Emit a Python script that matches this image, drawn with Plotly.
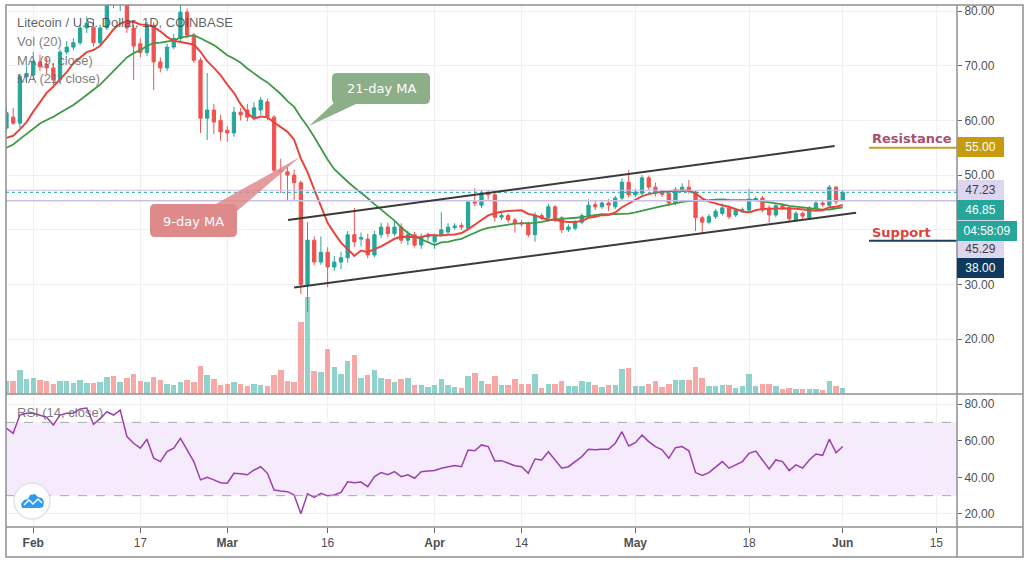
import pandas as pd
import plotly.graph_objects as go

# daily LTC/USD candles, Jan 28 - Jun 1 2020
dates = pd.date_range("2020-01-28", "2020-06-01", freq="D")

# closes of the 20 days before the window, only used to start the moving averages
seed_close = [47.0, 47.5, 48.5, 50.0, 50.5, 56.0, 55.5, 57.0, 59.5, 58.0,
              57.5, 56.8, 56.0, 57.5, 56.5, 53.5, 54.5, 54.0, 57.0, 60.8]

open_ = [58.6, 60.6, 59.5, 68.0, 68.3, 70.7, 70.2, 69.6, 67.4, 72.5,
         73.4, 74.2, 76.9, 77.0, 74.2, 76.9, 82.5, 81.5, 82.0, 76.9,
         74.0, 72.4, 77.4, 70.7, 69.6, 73.4, 75.0, 79.8, 75.6, 71.0,
         60.4, 61.9, 60.0, 58.2, 57.7, 61.5, 61.9, 60.6, 61.9, 63.4,
         60.6, 50.9, 50.6, 50.0, 48.6, 30.0, 38.1, 34.1, 35.9, 33.2,
         34.1, 34.9, 39.1, 38.3, 38.3, 35.4, 39.1, 40.5, 39.3, 40.5,
         38.1, 39.1, 37.2, 38.7, 37.8, 39.1, 39.6, 40.4, 40.8, 40.3,
         45.1, 44.5, 46.7, 46.4, 42.3, 42.6, 41.8, 41.3, 41.2, 39.1,
         42.6, 42.2, 44.2, 42.2, 40.0, 40.3, 41.4, 42.6, 44.6, 44.2,
         44.9, 44.2, 45.8, 48.7, 46.4, 46.7, 49.5, 47.8, 46.8, 46.7,
         44.9, 47.3, 47.8, 46.9, 42.2, 41.4, 42.4, 43.0, 44.0, 42.7,
         43.5, 43.6, 45.5, 45.8, 44.0, 42.7, 44.4, 44.0, 41.8, 43.0,
         42.2, 44.0, 44.9, 44.5, 47.8, 45.3]
high = [62.2, 62.3, 68.5, 70.0, 72.5, 72.0, 71.5, 70.5, 73.0, 74.5,
        75.0, 77.5, 79.0, 78.5, 77.5, 84.0, 84.0, 83.5, 83.0, 77.5,
        75.0, 78.0, 78.0, 71.5, 74.0, 75.8, 81.5, 80.5, 76.0, 71.5,
        68.7, 63.0, 61.0, 59.0, 62.5, 62.3, 63.0, 63.3, 64.3, 64.0,
        61.0, 53.0, 51.5, 51.0, 49.0, 41.4, 38.8, 38.8, 36.8, 35.2,
        36.0, 39.8, 44.0, 39.5, 39.3, 39.8, 41.3, 41.3, 41.5, 41.2,
        39.8, 39.6, 39.3, 39.5, 39.3, 43.2, 41.2, 41.2, 41.3, 45.5,
        47.6, 47.3, 47.2, 46.8, 43.4, 43.0, 42.2, 41.8, 41.5, 43.2,
        43.0, 44.8, 44.5, 42.5, 41.0, 41.8, 43.0, 45.6, 45.3, 45.3,
        45.6, 46.2, 49.4, 50.9, 47.5, 50.0, 49.9, 48.6, 47.3, 47.0,
        47.8, 48.5, 49.1, 47.2, 42.6, 42.9, 43.8, 44.8, 44.4, 44.0,
        44.1, 47.5, 46.1, 46.2, 44.5, 44.8, 44.8, 44.3, 43.4, 43.3,
        44.3, 45.4, 45.4, 48.2, 48.0, 47.23]
low = [57.8, 59.2, 58.6, 67.0, 67.5, 69.0, 68.5, 66.5, 66.8, 72.0,
       72.8, 73.8, 76.0, 73.5, 73.8, 76.5, 80.5, 80.0, 76.0, 67.4,
       71.5, 71.8, 65.5, 68.8, 69.0, 73.0, 74.5, 75.0, 70.5, 57.7,
       56.4, 57.5, 56.3, 56.1, 57.0, 60.0, 59.8, 60.0, 61.0, 60.0,
       50.5, 46.7, 45.4, 45.4, 28.2, 25.0, 33.5, 33.6, 29.5, 32.5,
       32.8, 34.0, 36.9, 37.0, 34.8, 35.0, 38.5, 38.6, 38.8, 37.5,
       37.2, 36.8, 36.5, 37.8, 36.5, 38.8, 39.2, 40.0, 40.0, 40.0,
       44.3, 44.0, 45.5, 41.5, 41.8, 41.3, 39.5, 40.5, 38.6, 37.8,
       41.8, 41.8, 41.4, 39.4, 39.6, 39.9, 41.0, 42.2, 43.6, 43.8,
       43.4, 43.8, 45.4, 45.9, 46.0, 46.3, 47.3, 46.1, 46.0, 44.3,
       44.5, 46.9, 46.6, 39.8, 39.4, 41.0, 42.0, 42.6, 41.9, 42.3,
       43.1, 43.2, 45.1, 43.2, 41.3, 42.3, 43.6, 41.6, 41.5, 42.0,
       41.9, 43.7, 44.2, 44.2, 44.6, 45.29]
close = [61.4, 59.5, 68.0, 68.6, 70.7, 69.8, 69.6, 67.4, 72.5, 73.4,
         74.2, 76.9, 77.8, 74.2, 76.9, 82.5, 81.5, 82.0, 76.9, 73.6,
         72.4, 77.4, 70.7, 69.6, 73.4, 75.0, 79.8, 75.6, 71.0, 60.4,
         61.9, 59.7, 57.9, 57.7, 61.5, 61.0, 60.6, 62.3, 63.7, 60.6,
         50.9, 50.6, 50.0, 48.6, 30.0, 38.1, 34.1, 35.9, 33.2, 34.1,
         34.9, 39.1, 37.8, 38.6, 35.4, 39.1, 40.5, 39.3, 40.5, 38.1,
         39.1, 37.2, 38.7, 39.0, 38.9, 40.0, 40.5, 40.7, 40.5, 45.1,
         44.9, 46.7, 46.4, 42.3, 42.6, 41.8, 41.2, 41.1, 39.1, 42.6,
         42.2, 44.2, 41.8, 40.0, 40.5, 41.4, 42.6, 44.5, 44.2, 44.9,
         44.5, 45.8, 48.7, 46.4, 46.9, 49.5, 47.8, 46.7, 46.5, 44.9,
         47.3, 47.8, 47.1, 42.2, 41.4, 42.4, 43.4, 44.0, 42.4, 43.6,
         43.7, 45.6, 45.7, 43.6, 42.7, 44.4, 44.1, 42.0, 43.0, 42.5,
         44.0, 44.9, 44.6, 47.8, 45.1, 46.85]
volume = [127, 127, 233, 143, 157, 140, 127, 93, 127, 127,
          107, 140, 107, 107, 117, 167, 180, 117, 160, 200,
          127, 117, 167, 140, 100, 83, 117, 140, 117, 273,
          190, 150, 83, 93, 117, 93, 73, 93, 83, 73,
          190, 233, 127, 117, 717, 967, 223, 213, 447, 267,
          200, 327, 383, 160, 190, 233, 160, 150, 117, 147,
          160, 87, 83, 67, 83, 147, 90, 67, 60, 177,
          210, 127, 100, 177, 83, 90, 147, 93, 93, 200,
          60, 93, 93, 127, 80, 73, 127, 117, 90, 67,
          90, 90, 243, 260, 80, 80, 100, 123, 67, 100,
          133, 133, 140, 267, 157, 80, 80, 90, 90, 60,
          73, 200, 80, 100, 93, 80, 47, 60, 50, 50,
          50, 50, 33, 123, 73, 60]
rsi = [66.7, 64.0, 74.0, 75.0, 75.0, 74.0, 72.8, 68.6, 74.0, 75.0,
       75.0, 77.3, 77.8, 68.9, 72.0, 75.8, 74.0, 76.7, 62.2, 58.6,
       55.9, 60.8, 50.4, 48.6, 54.0, 55.9, 61.3, 55.0, 48.6, 38.6,
       40.0, 38.6, 37.1, 36.8, 42.2, 42.0, 41.4, 44.0, 45.8, 42.2,
       33.1, 32.6, 32.2, 30.4, 20.1, 31.0, 29.1, 31.3, 29.9, 30.4,
       31.8, 37.6, 37.1, 37.4, 34.9, 40.4, 42.6, 41.4, 43.1, 40.4,
       41.4, 39.5, 43.1, 43.5, 43.7, 45.0, 45.8, 46.4, 45.8, 54.9,
       54.5, 57.7, 56.8, 48.9, 49.1, 47.7, 46.3, 45.8, 42.2, 50.0,
       49.5, 54.0, 49.5, 45.0, 45.8, 48.6, 51.3, 55.3, 55.0, 55.3,
       55.3, 58.6, 64.9, 57.1, 58.9, 63.1, 59.5, 56.8, 55.0, 50.4,
       56.2, 56.8, 54.5, 42.6, 41.0, 42.6, 45.4, 48.6, 45.0, 46.8,
       48.6, 53.1, 54.3, 49.5, 44.6, 49.5, 48.6, 43.7, 46.8, 45.0,
       49.5, 52.7, 52.0, 60.8, 53.4, 56.8]

tick_dates = ["2020-02-01", "2020-02-17", "2020-03-01", "2020-03-16", "2020-04-01",
              "2020-04-14", "2020-05-01", "2020-05-18", "2020-06-01", "2020-06-15"]
tick_text = ["<b>Feb</b>", "17", "<b>Mar</b>", "16", "<b>Apr</b>",
             "14", "<b>May</b>", "18", "<b>Jun</b>", "15"]
price_ticks = [20, 30, 40, 50, 60, 70, 80]
price_text = ["20.00", "30.00", "", "50.00", "60.00", "70.00", "80.00"]
rsi_ticks = [20, 40, 60, 80]

resistance = 55.0
support = 38.0
countdown = "04:58:09"

# hand-drawn channel (start, end)
upper_x = ["2020-03-10 02:00", "2020-05-30 19:00"]
upper_y = [41.8, 55.3]
lower_x = ["2020-03-11 00:00", "2020-06-03 00:00"]
lower_y = [29.45, 43.1]

UP, DOWN = "#26a69a", "#ef5350"
FONT = "Liberation Sans"


def px(x):
    return (x - 6) / 951


def py(y):
    return (527 - y) / 522


def rounded(x0, y0, x1, y1, r=5):
    pts = [
        f"M{px(x0 + r)},{py(y0)}", f"L{px(x1 - r)},{py(y0)}", f"Q{px(x1)},{py(y0)} {px(x1)},{py(y0 + r)}",
        f"L{px(x1)},{py(y1 - r)}", f"Q{px(x1)},{py(y1)} {px(x1 - r)},{py(y1)}",
        f"L{px(x0 + r)},{py(y1)}", f"Q{px(x0)},{py(y1)} {px(x0)},{py(y1 - r)}",
        f"L{px(x0)},{py(y0 + r)}", f"Q{px(x0)},{py(y0)} {px(x0 + r)},{py(y0)}", "Z",
    ]
    return " ".join(pts)


def poly(points):
    return "M" + " L".join(f"{px(a)},{py(b)}" for a, b in points) + " Z"


def note(x, y, text, font, xanchor="left", **kw):
    fig.add_annotation(xref="paper", yref="paper", x=px(x), y=py(y), xanchor=xanchor, yanchor="middle",
                       showarrow=False, text=text, font=font, **kw)


closes = pd.Series(seed_close + close)
ma9 = closes.rolling(9).mean().iloc[len(seed_close):].tolist()
ma21 = closes.rolling(21).mean().iloc[len(seed_close):].tolist()
vol_colors = ["rgba(38,166,154,0.5)" if c >= o else "rgba(239,83,80,0.5)" for o, c in zip(open_, close)]

fig = go.Figure()
fig.add_trace(go.Bar(x=dates, y=volume, marker_color=vol_colors, marker_line_width=0,
                     width=0.82 * 86400000, xaxis="x", yaxis="y", hoverinfo="skip"))
fig.add_trace(go.Candlestick(
    x=dates, open=open_, high=high, low=low, close=close, xaxis="x", yaxis="y2",
    increasing=dict(line=dict(color=UP, width=1), fillcolor=UP),
    decreasing=dict(line=dict(color=DOWN, width=1), fillcolor=DOWN),
    hoverinfo="skip",
))
fig.add_trace(go.Scatter(x=dates, y=ma21, mode="lines", line=dict(color="#3f9a45", width=1.8),
                         xaxis="x", yaxis="y2", hoverinfo="skip"))
fig.add_trace(go.Scatter(x=dates, y=ma9, mode="lines", line=dict(color="#e8453c", width=2),
                         xaxis="x", yaxis="y2", hoverinfo="skip"))
fig.add_trace(go.Scatter(x=dates, y=rsi, mode="lines", line=dict(color="#9b3fb0", width=1.5),
                         xaxis="x2", yaxis="y3", hoverinfo="skip"))

xrange = ["2020-01-27 22:12", "2020-06-18 02:00"]
grid = "#eef0f4"
tickfont = dict(family=FONT, size=12, color="#505050")

fig.update_layout(
    width=1032, height=561,
    margin=dict(l=6, r=75, t=5, b=34, autoexpand=False),
    paper_bgcolor="white", plot_bgcolor="white",
    showlegend=False, hovermode=False, bargap=0,
    xaxis=dict(domain=[0, 1], anchor="y", range=xrange, type="date", tickvals=tick_dates,
               showticklabels=False, ticks="", showgrid=True, gridcolor=grid, zeroline=False,
               rangeslider=dict(visible=False)),
    xaxis2=dict(domain=[0, 1], anchor="y3", range=xrange, type="date", tickvals=tick_dates,
                ticktext=tick_text, ticks="outside", ticklen=5, tickcolor="#666",
                tickfont=tickfont, showgrid=True, gridcolor=grid, zeroline=False),
    yaxis=dict(domain=[py(393.5), 1], range=[0, 3885], visible=False, fixedrange=True),
    yaxis2=dict(overlaying="y", side="right", anchor="x", range=[10.07, 81.1],
                tickvals=price_ticks, ticktext=price_text, ticks="outside", ticklen=4,
                tickcolor="#666", tickfont=tickfont, showgrid=True, gridcolor=grid, zeroline=False),
    yaxis3=dict(domain=[0, py(394.5)], anchor="x2", side="right", range=[12.9, 85.2],
                tickvals=rsi_ticks, tickformat=".2f", ticks="outside", ticklen=4,
                tickcolor="#666", tickfont=tickfont, showgrid=True, gridcolor=grid, zeroline=False),
)

# RSI band
fig.add_shape(type="rect", xref="x2 domain", yref="y3", x0=0, x1=1, y0=30, y1=70,
              fillcolor="rgba(178,102,230,0.13)", line_width=0, layer="below")
for level in (30, 70):
    fig.add_shape(type="line", xref="x2 domain", yref="y3", x0=0, x1=1, y0=level, y1=level,
                  line=dict(color="#a8a8a8", width=1, dash="dash"))

# last bar high / low and price lines
fig.add_hline(y=high[-1], yref="y2", line=dict(color="#c9c0e6", width=1.2))
fig.add_hline(y=low[-1], yref="y2", line=dict(color="#c9c0e6", width=1.5))
fig.add_shape(type="line", xref="x domain", yref="y2", x0=0, x1=1, y0=close[-1], y1=close[-1],
              line=dict(color=UP, width=1, dash="dot"))

# channel
for xs, ys in ((upper_x, upper_y), (lower_x, lower_y)):
    fig.add_shape(type="line", xref="x", yref="y2", x0=xs[0], x1=xs[1], y0=ys[0], y1=ys[1],
                  line=dict(color="#3a3a3a", width=2))

# resistance / support marks
fig.add_shape(type="line", xref="paper", yref="y2", x0=px(869), x1=1, y0=resistance, y1=resistance,
              line=dict(color="#c8a020", width=2))
fig.add_shape(type="line", xref="paper", yref="y2", x0=px(869), x1=1, y0=support, y1=support,
              line=dict(color="#1d3d5c", width=2))
note(870, 138, "<b>Resistance</b>", dict(family="DejaVu Sans", size=13, color="#a8506e"))
note(870, 232, "<b>Support</b>", dict(family="DejaVu Sans", size=13, color="#d9453d"))

# MA callouts
fig.add_shape(type="path", xref="paper", yref="paper", path=rounded(332, 73, 430, 104),
              fillcolor="#8cae88", line_width=0, layer="above")
fig.add_shape(type="path", xref="paper", yref="paper", path=poly([(336, 101), (356, 104), (309, 126)]),
              fillcolor="#8cae88", line_width=0, layer="above")
note(381, 88.5, "21-day MA", dict(family="DejaVu Sans", size=13, color="white"), xanchor="center")
fig.add_shape(type="path", xref="paper", yref="paper", path=rounded(150, 204, 237, 237),
              fillcolor="#df8a8a", line_width=0, layer="above")
fig.add_shape(type="path", xref="paper", yref="paper", path=poly([(214, 205), (237, 211), (300, 157)]),
              fillcolor="rgba(223,138,138,0.85)", line_width=0, layer="above")
note(193.5, 221, "9-day MA", dict(family="DejaVu Sans", size=13, color="white"), xanchor="center")

# legend texts
legend = ["Litecoin / U.S. Dollar, 1D, COINBASE", "Vol (20)", "MA (9, close)", "MA (21, close)"]
for i, t in enumerate(legend):
    note(15, 23 + 18.5 * i, t,
         dict(family=FONT, size=13, color="rgba(70,70,70,0.85)" if i == 0 else "rgba(100,100,100,0.85)"))
note(15, 413, "RSI (14, close)", dict(family=FONT, size=13, color="rgba(100,100,100,0.85)"))

# price axis labels
fig.add_shape(type="rect", xref="paper", yref="paper", x0=1, x1=px(1004), y0=py(258), y1=py(180),
              fillcolor="#dcd6ee", line_width=0)


def axis_label(text, ypx, bg, color, w=47):
    note(957, ypx, text, dict(family=FONT, size=12, color=color), width=w - 4, height=16,
         borderpad=2, borderwidth=0, bgcolor=bg, align="center")


axis_label(f"{resistance:.2f}", 147, "#c69c0c", "white")
axis_label(f"{high[-1]:.2f}", 190, "rgba(0,0,0,0)", "#404040")
axis_label(f"{close[-1]:.2f}", 210, UP, "white")
axis_label(countdown, 231, UP, "white", w=60)
axis_label(f"{low[-1]:.2f}", 249, "rgba(0,0,0,0)", "#404040")
axis_label(f"{support:.2f}", 268, "#0f3a5f", "white")

# tradingview badge
fig.add_shape(type="circle", xref="paper", yref="paper", x0=px(14), x1=px(50), y0=py(519), y1=py(483),
              fillcolor="white", line=dict(color="#dfe2ea", width=1.5))
fig.add_shape(type="path", xref="paper", yref="paper",
              path=poly([(22, 508), (21, 504), (24, 500), (28, 499), (30, 495), (35, 494), (38, 497),
                         (42, 498), (44, 502), (43, 507), (40, 508)]),
              fillcolor="#2e9bf0", line_width=0)
fig.add_shape(type="path", xref="paper", yref="paper",
              path=f"M{px(24)},{py(505)} L{px(29)},{py(500)} L{px(33)},{py(504)} L{px(38)},{py(499)} L{px(42)},{py(503)}",
              line=dict(color="white", width=1.5))

# frame
frame = dict(color="#8f8f8f", width=1.5)
fig.add_shape(type="rect", xref="paper", yref="paper", x0=0, x1=px(1023), y0=py(557), y1=py(5), line=frame)
fig.add_shape(type="line", xref="paper", yref="paper", x0=1, x1=1, y0=py(557), y1=py(5), line=frame)
fig.add_shape(type="line", xref="paper", yref="paper", x0=0, x1=px(1023), y0=py(394), y1=py(394), line=frame)
fig.add_shape(type="line", xref="paper", yref="paper", x0=0, x1=px(1023), y0=0, y1=0, line=frame)

# the page body has a default 8px margin; drop it so the figure sits at the window origin
fig.write_html("out.html", config={"displayModeBar": False},
               post_script="document.body.style.margin='0';")
